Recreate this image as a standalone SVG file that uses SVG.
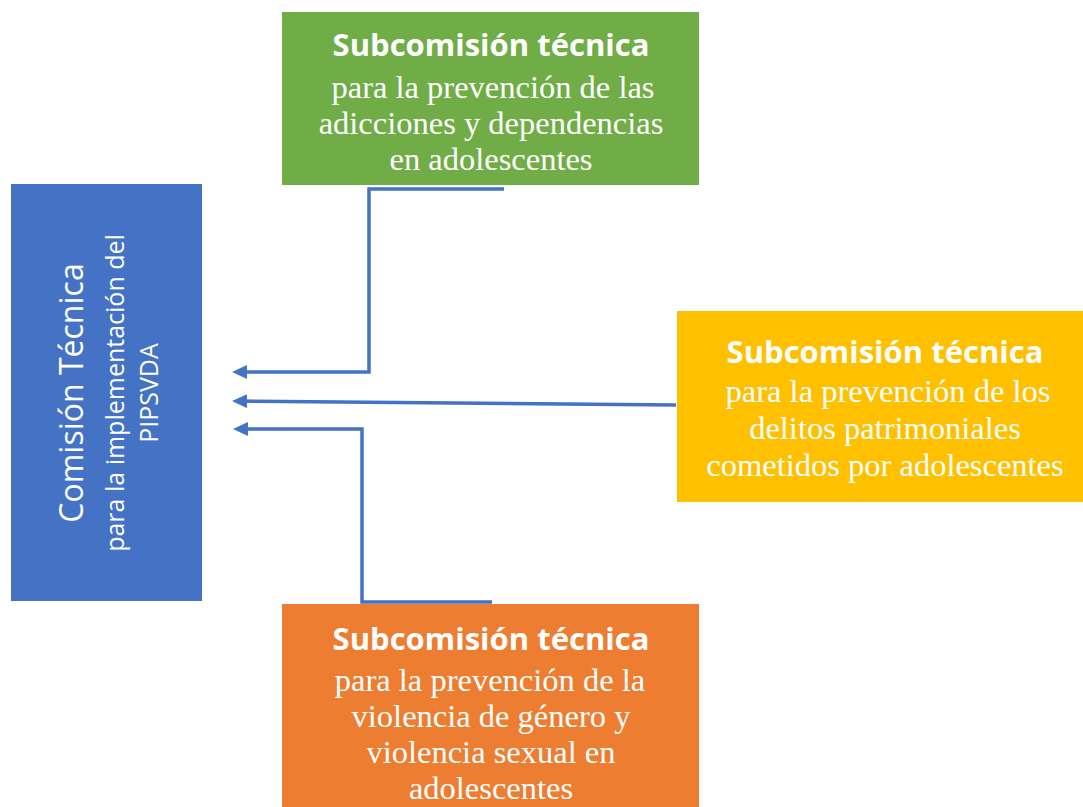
<svg xmlns="http://www.w3.org/2000/svg" width="1083" height="807" viewBox="0 0 1083 807">
<style>
.title{font-family:"Open Sans","Noto Sans",sans-serif;font-weight:bold;font-size:31px;fill:#fff;text-anchor:middle}
.body{font-family:"Liberation Serif","Times New Roman",serif;font-size:32.5px;fill:#fff;text-anchor:middle}
.side{font-family:"Open Sans","Noto Sans",sans-serif;fill:#fff;text-anchor:middle}
.conn{fill:none;stroke:#4472C4;stroke-width:3.5;marker-end:url(#arr)}
</style>
<defs>
<marker id="arr" viewBox="0 0 15 14" refX="11" refY="7" markerWidth="15" markerHeight="14" markerUnits="userSpaceOnUse" orient="auto">
<path d="M0,0 L15,7 L0,14 z" fill="#4472C4"/>
</marker>
</defs>
<rect width="1083" height="807" fill="#fff"/>
<g id="comision">
<rect x="11" y="184" width="191" height="417" fill="#4472C4"/>
<g transform="translate(0,393)">
<text class="side" transform="translate(83,0) rotate(-90)" font-size="32">Comisión Técnica</text>
<text class="side" transform="translate(124,0) rotate(-90)" font-size="25">para la implementación del</text>
<text class="side" transform="translate(158,0) rotate(-90)" font-size="25">PIPSVDA</text>
</g>
</g>
<g id="sub-adicciones">
<rect x="282" y="12" width="417" height="173" fill="#70AD47"/>
<text class="title" x="491" y="56">Subcomisión técnica</text>
<text class="body" x="493" y="98">para la prevención de las</text>
<text class="body" x="491" y="134">adicciones y dependencias</text>
<text class="body" x="491" y="170">en adolescentes</text>
</g>
<g id="sub-delitos">
<rect x="677" y="311" width="406" height="191" fill="#FFC000"/>
<text class="title" x="885" y="363">Subcomisión técnica</text>
<text class="body" x="888" y="402">para la prevención de los</text>
<text class="body" x="885" y="439">delitos patrimoniales</text>
<text class="body" x="885" y="476">cometidos por adolescentes</text>
</g>
<g id="sub-violencia">
<rect x="282" y="604" width="417" height="203" fill="#ED7D31"/>
<text class="title" x="491" y="650">Subcomisión técnica</text>
<text class="body" x="490" y="691">para la prevención de la</text>
<text class="body" x="491" y="727">violencia de género y</text>
<text class="body" x="491" y="763">violencia sexual en</text>
<text class="body" x="491" y="799">adolescentes</text>
</g>
<g id="connectors">
<path class="conn" d="M504,189 H369 V372 H236"/>
<path class="conn" d="M676,405 L236,401"/>
<path class="conn" d="M492,602 H362 V429 H237"/>
</g>
</svg>
